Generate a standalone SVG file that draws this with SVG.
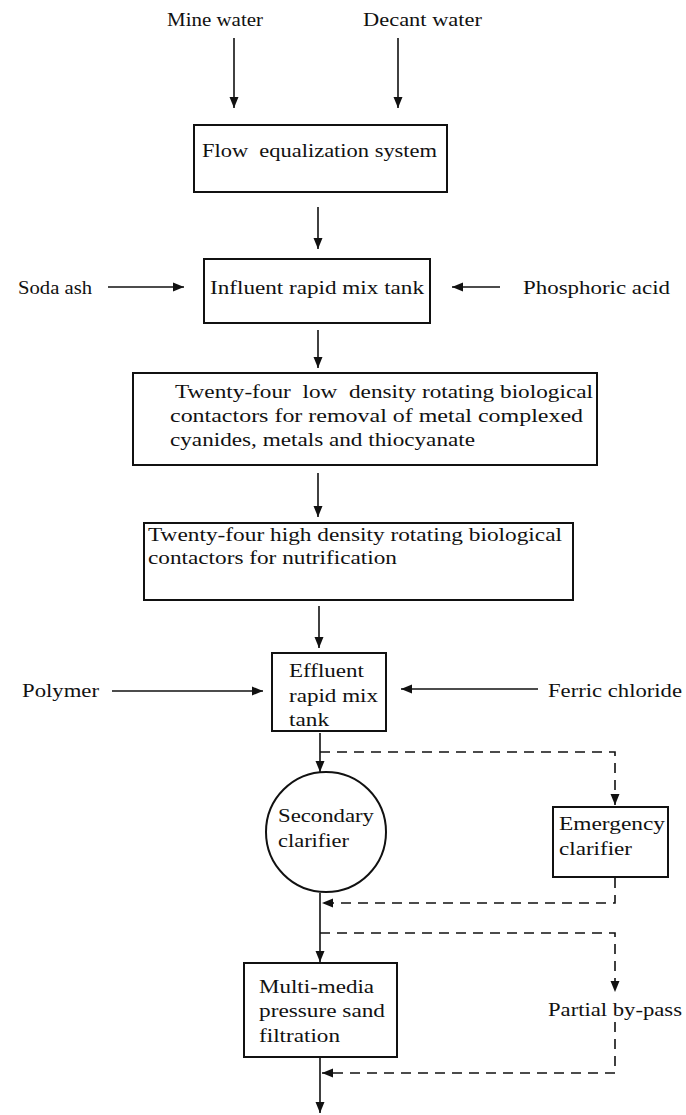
<svg xmlns="http://www.w3.org/2000/svg" width="686" height="1115" viewBox="0 0 686 1115" font-family="'Liberation Serif', 'DejaVu Serif', serif" font-size="19">
<style>
text{font-family:'Liberation Serif','DejaVu Serif',serif;font-size:19px;fill:#111}
.box{fill:#fff;stroke:#111;stroke-width:2}
.ln{fill:none;stroke:#111;stroke-width:1.6}
.dash{fill:none;stroke:#111;stroke-width:1.6;stroke-dasharray:10 7}
</style>
<defs>
<marker id="ah" markerUnits="userSpaceOnUse" markerWidth="12" markerHeight="10" refX="11" refY="5" orient="auto">
<path d="M0,0.5 L11,5 L0,9.5 z" fill="#111"/>
</marker>
</defs>
<rect width="686" height="1115" fill="#fff"/>

<g id="connectors">
<line class="ln" x1="234" y1="38" x2="234" y2="108" marker-end="url(#ah)"/>
<line class="ln" x1="398" y1="38" x2="398" y2="108" marker-end="url(#ah)"/>
<line class="ln" x1="318" y1="207" x2="318" y2="249" marker-end="url(#ah)"/>
<line class="ln" x1="108" y1="287" x2="184" y2="287" marker-end="url(#ah)"/>
<line class="ln" x1="500" y1="287" x2="452" y2="287" marker-end="url(#ah)"/>
<line class="ln" x1="318" y1="330" x2="318" y2="368" marker-end="url(#ah)"/>
<line class="ln" x1="318" y1="473" x2="318" y2="517" marker-end="url(#ah)"/>
<line class="ln" x1="319" y1="606" x2="319" y2="648" marker-end="url(#ah)"/>
<line class="ln" x1="112" y1="691" x2="263" y2="691" marker-end="url(#ah)"/>
<line class="ln" x1="538" y1="689" x2="401" y2="689" marker-end="url(#ah)"/>
<line class="ln" x1="320" y1="733" x2="320" y2="772" marker-end="url(#ah)"/>
<path class="dash" d="M320,752 H615 V805" marker-end="url(#ah)"/>
<path class="dash" d="M615,878 V903 H322" marker-end="url(#ah)"/>
<line class="ln" x1="320" y1="893" x2="320" y2="962" marker-end="url(#ah)"/>
<path class="dash" d="M320,933 H615 V992" marker-end="url(#ah)"/>
<path class="dash" d="M615,1022 V1073 H322" marker-end="url(#ah)"/>
<line class="ln" x1="320" y1="1058" x2="320" y2="1113" marker-end="url(#ah)"/>
</g>

<g id="mine-water"><text x="167" y="26" textLength="96" lengthAdjust="spacingAndGlyphs">Mine water</text></g>
<g id="decant-water"><text x="363" y="26" textLength="119" lengthAdjust="spacingAndGlyphs">Decant water</text></g>
<g id="flow-equalization">
<rect class="box" x="194" y="125" width="253" height="67"/>
<text x="202" y="157" xml:space="preserve" textLength="235" lengthAdjust="spacingAndGlyphs">Flow  equalization system</text>
</g>
<g id="soda-ash"><text x="18" y="294" textLength="74" lengthAdjust="spacingAndGlyphs">Soda ash</text></g>
<g id="phosphoric-acid"><text x="523" y="294" textLength="147" lengthAdjust="spacingAndGlyphs">Phosphoric acid</text></g>
<g id="influent-tank">
<rect class="box" x="204" y="259" width="226" height="64"/>
<text x="210" y="294" textLength="214" lengthAdjust="spacingAndGlyphs">Influent rapid mix tank</text>
</g>
<g id="low-density-rbc">
<rect class="box" x="133" y="373" width="464" height="92"/>
<text x="175" y="398" xml:space="preserve" textLength="418" lengthAdjust="spacingAndGlyphs">Twenty-four  low  density rotating biological</text>
<text x="170" y="422" textLength="413" lengthAdjust="spacingAndGlyphs">contactors for removal of metal complexed</text>
<text x="170" y="446" textLength="305" lengthAdjust="spacingAndGlyphs">cyanides, metals and thiocyanate</text>
</g>
<g id="high-density-rbc">
<rect class="box" x="144" y="523" width="429" height="77"/>
<text x="148" y="541" textLength="414" lengthAdjust="spacingAndGlyphs">Twenty-four high density rotating biological</text>
<text x="148" y="564" textLength="249" lengthAdjust="spacingAndGlyphs">contactors for nutrification</text>
</g>
<g id="polymer"><text x="22" y="697" textLength="77" lengthAdjust="spacingAndGlyphs">Polymer</text></g>
<g id="ferric-chloride"><text x="548" y="697" textLength="134" lengthAdjust="spacingAndGlyphs">Ferric chloride</text></g>
<g id="effluent-tank">
<rect class="box" x="272" y="653" width="114" height="78"/>
<text x="289" y="677" textLength="75" lengthAdjust="spacingAndGlyphs">Effluent</text>
<text x="289" y="702" textLength="89" lengthAdjust="spacingAndGlyphs">rapid mix</text>
<text x="289" y="726" textLength="40" lengthAdjust="spacingAndGlyphs">tank</text>
</g>
<g id="secondary-clarifier">
<circle class="box" cx="326" cy="832" r="60" stroke-width="1.6"/>
<text x="278" y="822" textLength="96" lengthAdjust="spacingAndGlyphs">Secondary</text>
<text x="278" y="847" textLength="71" lengthAdjust="spacingAndGlyphs">clarifier</text>
</g>
<g id="emergency-clarifier">
<rect class="box" x="553" y="807" width="115" height="70"/>
<text x="559" y="830" textLength="106" lengthAdjust="spacingAndGlyphs">Emergency</text>
<text x="559" y="855" textLength="73" lengthAdjust="spacingAndGlyphs">clarifier</text>
</g>
<g id="sand-filtration">
<rect class="box" x="244" y="963" width="153" height="94"/>
<text x="259" y="993" textLength="115" lengthAdjust="spacingAndGlyphs">Multi-media</text>
<text x="259" y="1017" textLength="126" lengthAdjust="spacingAndGlyphs">pressure sand</text>
<text x="259" y="1042" textLength="81" lengthAdjust="spacingAndGlyphs">filtration</text>
</g>
<g id="partial-bypass"><text x="548" y="1016" textLength="134" lengthAdjust="spacingAndGlyphs">Partial by-pass</text></g>
</svg>
